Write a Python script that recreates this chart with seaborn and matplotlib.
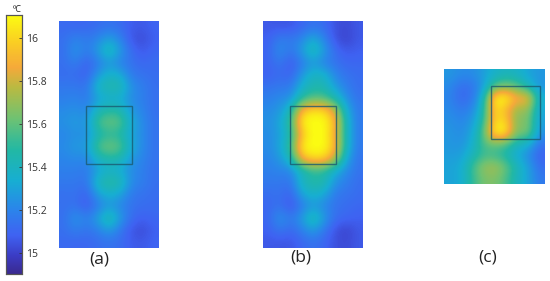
import numpy as np
import seaborn as sns
import matplotlib.pyplot as plt
from matplotlib.colors import LinearSegmentedColormap
from matplotlib.patches import Rectangle

# temperaturas (grado C), una matriz por panel
temp_a = [
    [15.11, 15.10, 15.10, 15.12, 15.14, 15.12, 15.07, 15.06, 15.09],
    [15.13, 15.20, 15.16, 15.20, 15.30, 15.20, 15.05, 15.02, 15.08],
    [15.13, 15.26, 15.16, 15.28, 15.46, 15.28, 15.12, 15.06, 15.10],
    [15.13, 15.18, 15.08, 15.16, 15.26, 15.18, 15.14, 15.10, 15.12],
    [15.12, 15.12, 15.08, 15.26, 15.38, 15.34, 15.16, 15.14, 15.12],
    [15.16, 15.16, 15.14, 15.40, 15.46, 15.46, 15.24, 15.18, 15.13],
    [15.18, 15.20, 15.16, 15.28, 15.34, 15.32, 15.22, 15.18, 15.13],
    [15.22, 15.24, 15.20, 15.42, 15.48, 15.46, 15.26, 15.20, 15.13],
    [15.24, 15.28, 15.24, 15.56, 15.62, 15.60, 15.34, 15.22, 15.14],
    [15.20, 15.24, 15.22, 15.42, 15.48, 15.46, 15.30, 15.22, 15.14],
    [15.22, 15.28, 15.26, 15.58, 15.64, 15.60, 15.34, 15.22, 15.14],
    [15.20, 15.22, 15.20, 15.40, 15.46, 15.44, 15.26, 15.20, 15.14],
    [15.18, 15.18, 15.16, 15.28, 15.36, 15.32, 15.22, 15.18, 15.13],
    [15.16, 15.16, 15.14, 15.42, 15.50, 15.46, 15.22, 15.18, 15.13],
    [15.13, 15.14, 15.08, 15.28, 15.36, 15.30, 15.16, 15.14, 15.12],
    [15.13, 15.14, 15.06, 15.16, 15.26, 15.20, 15.14, 15.12, 15.12],
    [15.13, 15.26, 15.18, 15.30, 15.50, 15.28, 15.12, 15.08, 15.10],
    [15.13, 15.18, 15.14, 15.18, 15.28, 15.16, 15.05, 15.02, 15.08],
    [15.11, 15.10, 15.10, 15.12, 15.14, 15.12, 15.07, 15.06, 15.09],
]
temp_b = [
    [15.06, 15.05, 15.05, 15.10, 15.14, 15.12, 15.04, 15.02, 15.06],
    [15.08, 15.18, 15.16, 15.20, 15.34, 15.20, 15.04, 15.00, 15.06],
    [15.09, 15.24, 15.14, 15.28, 15.46, 15.28, 15.12, 15.06, 15.08],
    [15.09, 15.16, 15.06, 15.16, 15.26, 15.18, 15.14, 15.10, 15.10],
    [15.08, 15.12, 15.08, 15.26, 15.40, 15.38, 15.20, 15.14, 15.12],
    [15.14, 15.16, 15.16, 15.36, 15.44, 15.44, 15.28, 15.18, 15.12],
    [15.18, 15.22, 15.24, 15.48, 15.58, 15.56, 15.44, 15.24, 15.14],
    [15.22, 15.26, 15.42, 15.96, 16.06, 16.04, 15.80, 15.34, 15.16],
    [15.24, 15.30, 15.52, 16.10, 16.12, 16.12, 15.94, 15.40, 15.16],
    [15.22, 15.28, 15.44, 15.94, 16.12, 16.12, 15.88, 15.40, 15.16],
    [15.22, 15.30, 15.52, 16.10, 16.12, 16.12, 15.94, 15.40, 15.16],
    [15.20, 15.26, 15.42, 15.92, 16.04, 16.02, 15.78, 15.32, 15.14],
    [15.18, 15.20, 15.20, 15.40, 15.50, 15.48, 15.34, 15.22, 15.14],
    [15.16, 15.16, 15.14, 15.40, 15.48, 15.46, 15.24, 15.18, 15.12],
    [15.12, 15.14, 15.08, 15.30, 15.38, 15.32, 15.16, 15.14, 15.12],
    [15.10, 15.14, 15.04, 15.16, 15.26, 15.20, 15.14, 15.12, 15.10],
    [15.10, 15.26, 15.16, 15.28, 15.48, 15.28, 15.12, 15.10, 15.08],
    [15.08, 15.16, 15.10, 15.18, 15.28, 15.16, 15.04, 15.00, 15.06],
    [15.06, 15.05, 15.05, 15.10, 15.14, 15.10, 15.04, 15.02, 15.06],
]
temp_c = [
    [15.26, 15.22, 15.22, 15.28, 15.36, 15.40, 15.38, 15.30, 15.26],
    [15.22, 15.12, 15.14, 15.26, 15.56, 15.66, 15.58, 15.40, 15.24],
    [15.20, 15.10, 15.14, 15.36, 16.12, 16.12, 15.90, 15.94, 15.34],
    [15.22, 15.16, 15.20, 15.42, 16.04, 15.92, 15.70, 15.72, 15.30],
    [15.24, 15.20, 15.26, 15.46, 16.02, 16.00, 15.64, 15.66, 15.28],
    [15.26, 15.22, 15.30, 15.56, 16.12, 16.10, 15.64, 15.68, 15.24],
    [15.26, 15.24, 15.34, 15.56, 15.62, 15.56, 15.40, 15.36, 15.14],
    [15.28, 15.28, 15.40, 15.52, 15.52, 15.44, 15.32, 15.22, 15.08],
    [15.30, 15.32, 15.52, 15.70, 15.74, 15.62, 15.42, 15.30, 15.12],
    [15.30, 15.32, 15.50, 15.64, 15.66, 15.56, 15.40, 15.30, 15.16],
]
panel_labels = ["(a)", "(b)", "(c)"]
cbar_ticks = [15, 15.2, 15.4, 15.6, 15.8, 16]
cbar_ticklabels = ["15", "15.2", "15.4", "15.6", "15.8", "16"]

# colormap tipo parula
parula = LinearSegmentedColormap.from_list("parula_like", [
    (0.00, "#3a2a90"), (0.07, "#3b3cc4"), (0.15, "#3f62f2"), (0.25, "#2a86ea"),
    (0.36, "#17aed2"), (0.48, "#22b8a4"), (0.60, "#6fc272"), (0.72, "#b8ba42"),
    (0.80, "#f5a93a"), (0.90, "#fad022"), (1.00, "#fbfb12"),
])
vmin, vmax = 14.9, 16.107

W, H = 550, 281

def px_axes(fig, x0, y0, x1, y1):
    # ejes colocados en pixeles de la imagen
    return fig.add_axes([x0 / W, 1 - y1 / H, (x1 - x0) / W, (y1 - y0) / H])

fig = plt.figure(figsize=(W / 100, H / 100), dpi=100)
plt.rcParams["font.family"] = ["Open Sans", "DejaVu Sans"]

panels = [
    (temp_a, (59, 21, 159, 248), (86, 106, 132, 164), (99, 260)),
    (temp_b, (263, 21, 363, 248), (290, 106, 336, 164), (301, 258)),
    (temp_c, (444, 69, 545, 184), (491, 86, 540, 139), (488, 258)),
]

cax = px_axes(fig, 6, 15, 22, 274)

for i, (temp, pos, box, lab) in enumerate(panels):
    ax = px_axes(fig, *pos)
    sns.heatmap(np.array(temp), ax=ax, cmap=parula, vmin=vmin, vmax=vmax,
                xticklabels=False, yticklabels=False,
                cbar=i == 0, cbar_ax=cax if i == 0 else None)
    # suavizado igual que en el original
    nrow, ncol = np.shape(temp)
    ax.imshow(temp, cmap=parula, vmin=vmin, vmax=vmax, aspect="auto",
              interpolation="bicubic", extent=(0, ncol, nrow, 0), zorder=2)
    ax.set_xlim(0, ncol)
    ax.set_ylim(nrow, 0)
    ax.tick_params(length=0)
    ax.set_xlabel("")
    ax.set_ylabel("")
    for s in ax.spines.values():
        s.set_visible(False)
    # rectangulo de la zona central
    sx = ncol / (pos[2] - pos[0])
    sy = nrow / (pos[3] - pos[1])
    ax.add_patch(Rectangle(((box[0] - pos[0]) * sx, (box[1] - pos[1]) * sy),
                           (box[2] - box[0]) * sx, (box[3] - box[1]) * sy,
                           fill=False, edgecolor="#1a5a70", linewidth=1.0,
                           alpha=0.8, zorder=3))
    fig.text(lab[0] / W, 1 - lab[1] / H, panel_labels[i], ha="center", va="center",
             fontsize=12.5, color="#222222")

cax.set_yticks(cbar_ticks)
cax.set_yticklabels(cbar_ticklabels)
cax.tick_params(axis="y", direction="in", length=2, width=0.6, pad=3,
                labelsize=7.5, colors="#333333", right=True, labelright=True)
for s in cax.spines.values():
    s.set_visible(True)
    s.set_color("#555555")
    s.set_linewidth(0.8)
fig.text(17 / W, 1 - 9 / H, "ºC", ha="center", va="center", fontsize=6.5, color="#222222")

fig.savefig("out.png", dpi=100)
